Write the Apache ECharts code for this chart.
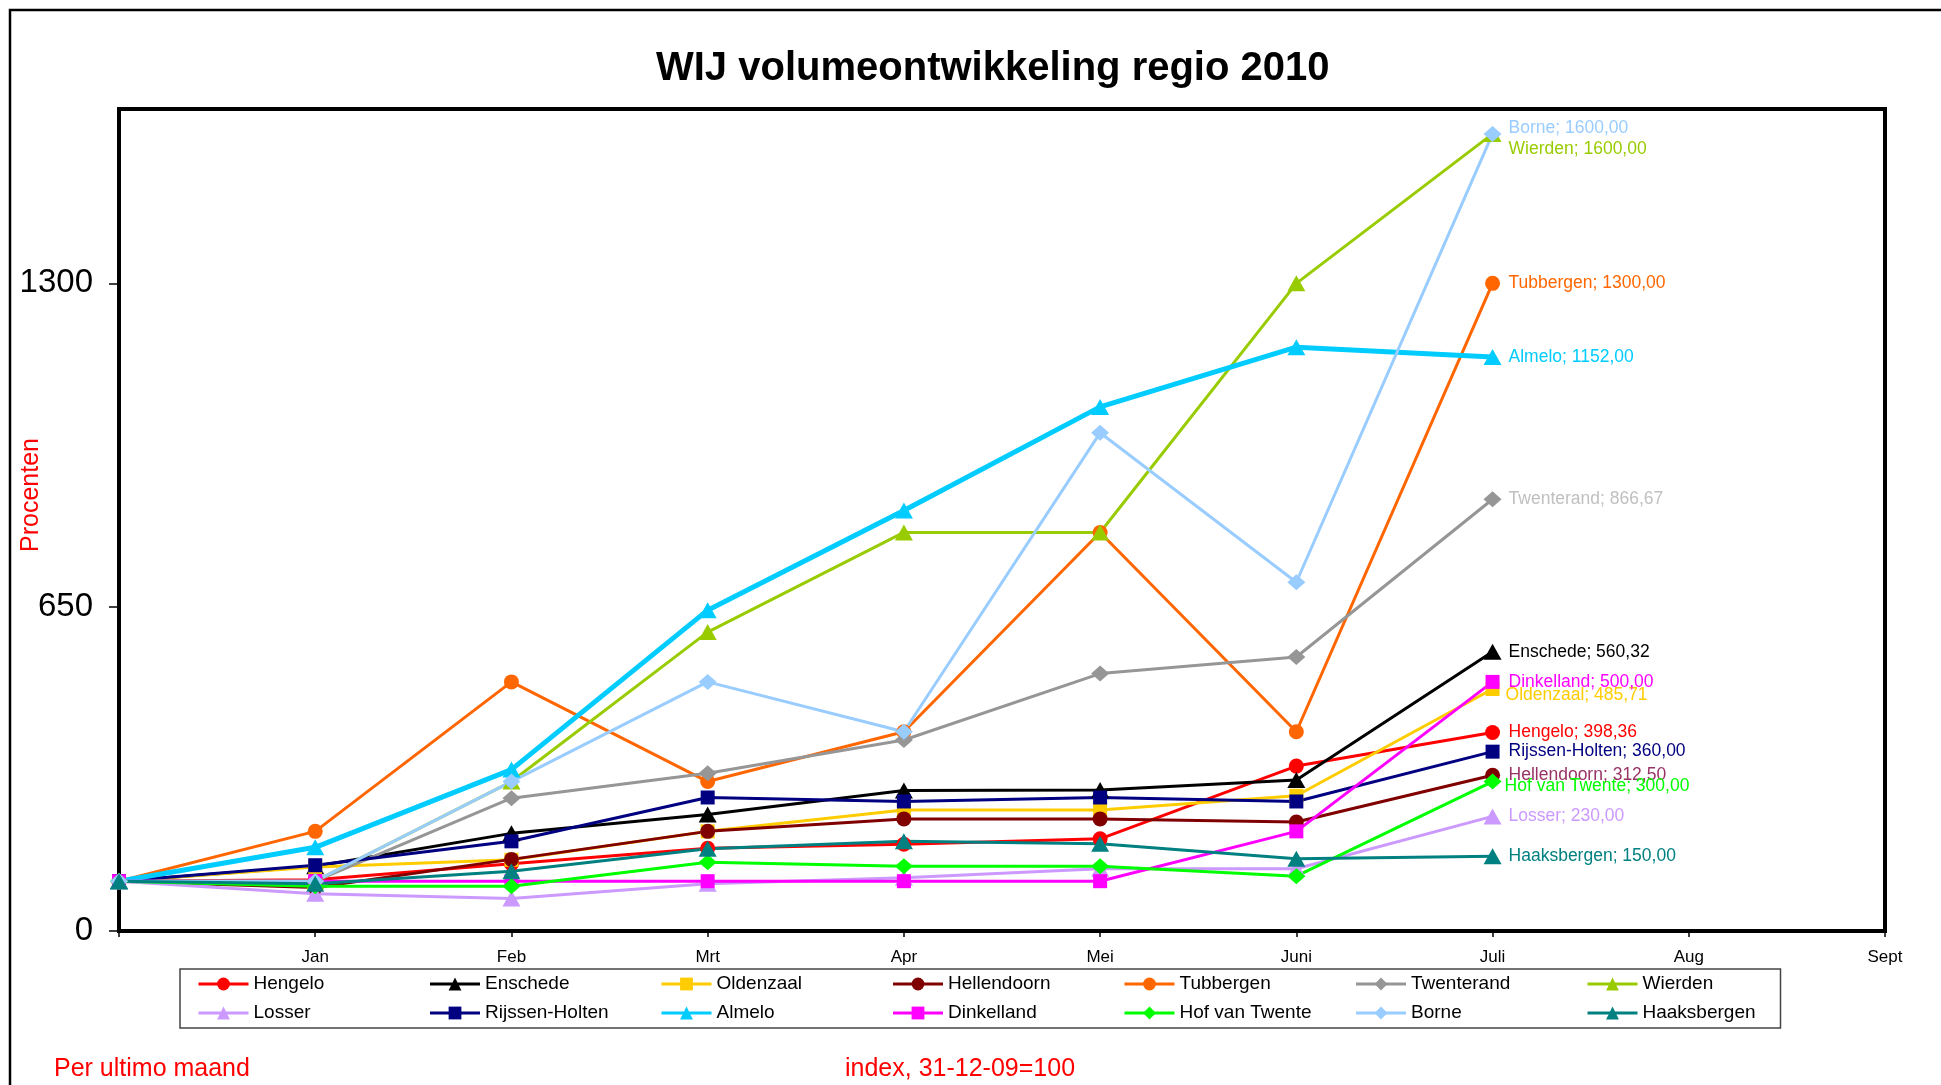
<!DOCTYPE html>
<html><head><meta charset="utf-8">
<script src="https://cdn.jsdelivr.net/npm/echarts@6/dist/echarts.min.js"></script>
<style>html,body{margin:0;padding:0;background:#fff;overflow:hidden}#c{width:1941px;height:1085px}</style>
</head><body><div id="c"></div>
<script>
// ---- data ----
const categories = ['', 'Jan', 'Feb', 'Mrt', 'Apr', 'Mei', 'Juni', 'Juli', 'Aug', 'Sept'];
const yTicks = [0, 650, 1300];
const names = ['Hengelo', 'Enschede', 'Oldenzaal', 'Hellendoorn', 'Tubbergen', 'Twenterand', 'Wierden',
               'Losser', 'Rijssen-Holten', 'Almelo', 'Dinkelland', 'Hof van Twente', 'Borne', 'Haaksbergen'];
const hengelo       = [100, 103, 135, 166, 174, 185, 331, 398.36];
const enschede      = [100, 130, 196, 234, 282, 283, 303, 560.32];
const oldenzaal     = [100, 128.57, 142.86, 200, 242.86, 242.86, 271.43, 485.71];
const hellendoorn   = [100, 87.5, 143.75, 200, 225, 225, 218.75, 312.5];
const tubbergen     = [100, 200, 500, 300, 400, 800, 400, 1300];
const twenterand    = [100, 100, 266.67, 316.67, 383.33, 516.67, 550, 866.67];
const wierden       = [100, 100, 300, 600, 800, 800, 1300, 1600];
const losser        = [100, 75, 65, 95, 107, 125, 125, 230];
const rijssenHolten = [100, 132, 180, 268, 260, 268, 260, 360];
const almelo        = [100, 168, 324, 644, 844, 1052, 1172, 1152];
const dinkelland    = [100, 100, 100, 100, 100, 100, 200, 500];
const hofVanTwente  = [100, 90, 90, 138, 130, 130, 110, 300];
const borne         = [100, 100, 300, 500, 400, 1000, 700, 1600];
const haaksbergen   = [100, 95, 120, 165, 180, 175, 145, 150];

const seriesData = {
  'Hengelo': hengelo, 'Enschede': enschede, 'Oldenzaal': oldenzaal, 'Hellendoorn': hellendoorn,
  'Tubbergen': tubbergen, 'Twenterand': twenterand, 'Wierden': wierden, 'Losser': losser,
  'Rijssen-Holten': rijssenHolten, 'Almelo': almelo, 'Dinkelland': dinkelland,
  'Hof van Twente': hofVanTwente, 'Borne': borne, 'Haaksbergen': haaksbergen
};

// ---- styles ----
const FONT = '"Liberation Sans", Arial, sans-serif';
const styleOf = {
  'Hengelo':        {color:'#FF0000', label:'#FF0000', symbol:'circle'},
  'Enschede':       {color:'#000000', label:'#000000', symbol:'triangle'},
  'Oldenzaal':      {color:'#FFCC00', label:'#FFCC00', symbol:'rect', offset:[-3,6]},
  'Hellendoorn':    {color:'#800000', label:'#993366', symbol:'circle'},
  'Tubbergen':      {color:'#FF6600', label:'#FF6600', symbol:'circle'},
  'Twenterand':     {color:'#969696', label:'#C0C0C0', symbol:'diamond'},
  'Wierden':        {color:'#99CC00', label:'#99CC00', symbol:'triangle', offset:[0,15]},
  'Losser':         {color:'#CC99FF', label:'#CC99FF', symbol:'triangle'},
  'Rijssen-Holten': {color:'#000080', label:'#000080', symbol:'rect'},
  'Almelo':         {color:'#00CCFF', label:'#00CCFF', symbol:'triangle', width:5},
  'Dinkelland':     {color:'#FF00FF', label:'#FF00FF', symbol:'rect'},
  'Hof van Twente': {color:'#00FF00', label:'#00FF00', symbol:'diamond', offset:[-4,5]},
  'Borne':          {color:'#99CCFF', label:'#99CCFF', symbol:'diamond', offset:[0,-6]},
  'Haaksbergen':    {color:'#008080', label:'#008080', symbol:'triangle'}
};
const symbolSizes = {circle:15, rect:14, triangle:[18,16], diamond:[18,16]};

const series = names.map(n => {
  const s = styleOf[n];
  return {
    type: 'line', name: n, data: seriesData[n],
    symbol: s.symbol, symbolSize: symbolSizes[s.symbol], showAllSymbol: true,
    lineStyle: {color: s.color, width: s.width || 3},
    itemStyle: {color: s.color},
    emphasis: {disabled: true},
    endLabel: {
      show: true, distance: 16, offset: s.offset || [0, 0],
      color: s.label, fontSize: 17.5, fontFamily: FONT,
      formatter: p => p.seriesName + '; ' + Number(p.value).toFixed(2).replace('.', ',')
    }
  };
});

const lastCol = ['Wierden', 'Haaksbergen'];

const chart = echarts.init(document.getElementById('c'));
chart.setOption({
  animation: false,
  backgroundColor: '#ffffff',
  title: {
    text: 'WIJ volumeontwikkeling regio 2010',
    left: 651, top: 44,
    textStyle: {fontSize: 40, fontWeight: 'bold', fontFamily: FONT, color: '#000'}
  },
  grid: {left: 119, right: 56, top: 109, bottom: 154, show: true, borderColor: '#000', borderWidth: 4, backgroundColor: '#fff'},
  xAxis: {
    type: 'category', data: categories, boundaryGap: false,
    axisLine: {show: true, lineStyle: {color: '#000', width: 4}},
    axisTick: {show: true, length: 6, interval: 0, lineStyle: {color: '#000', width: 1.5}},
    axisLabel: {interval: 0, fontSize: 17, color: '#000', margin: 18, fontFamily: FONT},
    splitLine: {show: false}
  },
  yAxis: {
    type: 'value', min: 0, max: 1650, interval: 650,
    axisLine: {show: true, lineStyle: {color: '#000', width: 4}},
    axisTick: {show: true, length: 10, customValues: yTicks, lineStyle: {color: '#000', width: 1.5}},
    axisLabel: {customValues: yTicks, fontSize: 33, color: '#000', margin: 26, fontFamily: FONT,
                formatter: v => String(v)},
    splitLine: {show: false}
  },
  legend: {
    left: 180, top: 969, width: 1610, orient: 'horizontal',
    itemWidth: 50, itemHeight: 16, itemGap: 7,
    padding: [4, 8, 4, 17],
    borderColor: '#444', borderWidth: 1.5, backgroundColor: '#fff',
    selectedMode: false,
    lineStyle: {width: 3},
    textStyle: {fontSize: 19, lineHeight: 22, width: 168, color: '#000', fontFamily: FONT},
    data: names.map(n => lastCol.includes(n) ? {name: n, textStyle: {width: 130}} : {name: n})
  },
  graphic: [
    {type: 'rect', silent: true, shape: {x: 10, y: 10, width: 2000, height: 2000},
     style: {fill: 'none', stroke: '#000', lineWidth: 2.5}},
    {type: 'text', silent: true, x: 31, y: 495, rotation: Math.PI / 2,
     style: {text: 'Procenten', fill: '#FF0000', fontSize: 25, fontFamily: FONT, align: 'center', verticalAlign: 'middle'}},
    {type: 'text', silent: true, x: 54, y: 1069,
     style: {text: 'Per ultimo maand', fill: '#FF0000', fontSize: 25, fontFamily: FONT, align: 'left', verticalAlign: 'middle'}},
    {type: 'text', silent: true, x: 845, y: 1069,
     style: {text: 'index, 31-12-09=100', fill: '#FF0000', fontSize: 25, fontFamily: FONT, align: 'left', verticalAlign: 'middle'}}
  ],
  series: series
});
</script>
</body></html>
